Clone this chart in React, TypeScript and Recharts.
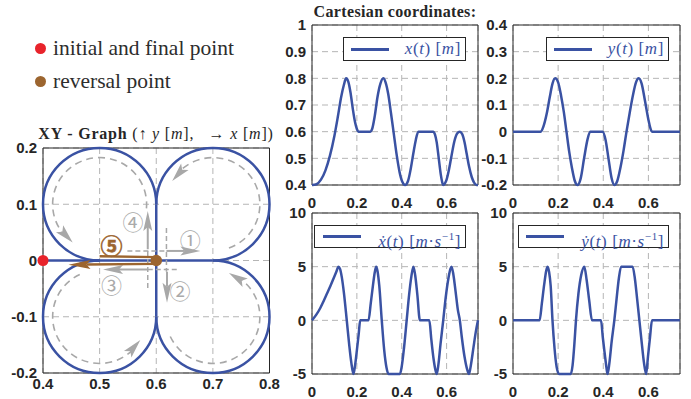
import React from 'react';
import {
  ComposedChart,
  LineChart,
  Line,
  XAxis,
  YAxis,
  CartesianGrid,
  ReferenceArea,
  ReferenceLine,
  Scatter,
  Legend,
} from 'recharts';

// ---------- colours ----------
const BLUE = '#3a52a3';
const RED = '#e8232b';
const BROWN = '#9c652f';
const GRAY = '#a8a8a8';
const GRID = '#b5b5b5';
const INK = '#262626';

// ---------- time plots ----------
const timeTicks = [0, 0.2, 0.4, 0.6];
const timeMax = 0.74;
const posXTicks = [0.4, 0.5, 0.6, 0.7, 0.8, 0.9, 1];
const posYTicks = [-0.2, -0.1, 0, 0.1, 0.2, 0.3, 0.4];
const velTicks = [-5, 0, 5, 10];

// x(t) [m]
const xPosition: [number, number][] = [
  [0, 0.4], [0.02, 0.403], [0.04, 0.42], [0.06, 0.455], [0.08, 0.51], [0.1, 0.585],
  [0.115, 0.655], [0.13, 0.73], [0.142, 0.775], [0.152, 0.8], [0.162, 0.787],
  [0.172, 0.745], [0.182, 0.685], [0.192, 0.635], [0.2, 0.61], [0.207, 0.6],
  [0.259, 0.6], [0.268, 0.61], [0.28, 0.66], [0.292, 0.73], [0.305, 0.78],
  [0.318, 0.8], [0.328, 0.785], [0.34, 0.74], [0.352, 0.67], [0.365, 0.59],
  [0.378, 0.51], [0.39, 0.45], [0.402, 0.413], [0.415, 0.4], [0.428, 0.415],
  [0.44, 0.46], [0.452, 0.52], [0.463, 0.57], [0.474, 0.6], [0.54, 0.6],
  [0.548, 0.59], [0.556, 0.56], [0.565, 0.5], [0.574, 0.44], [0.58, 0.412],
  [0.585, 0.4], [0.592, 0.405], [0.6, 0.42], [0.61, 0.455], [0.622, 0.51],
  [0.635, 0.565], [0.647, 0.593], [0.659, 0.6], [0.67, 0.59], [0.68, 0.56],
  [0.69, 0.515], [0.7, 0.47], [0.712, 0.43], [0.722, 0.41], [0.733, 0.4], [0.74, 0.4],
];

// y(t) [m]
const yPosition: [number, number][] = [
  [0, 0], [0.123, 0], [0.135, 0.02], [0.15, 0.07], [0.163, 0.13], [0.175, 0.18],
  [0.187, 0.2], [0.2, 0.185], [0.213, 0.135], [0.225, 0.075], [0.237, 0],
  [0.249, -0.075], [0.261, -0.135], [0.274, -0.185], [0.286, -0.2], [0.3, -0.175],
  [0.315, -0.1], [0.33, -0.03], [0.342, 0], [0.397, 0], [0.41, -0.03],
  [0.423, -0.1], [0.437, -0.175], [0.449, -0.2], [0.462, -0.185], [0.476, -0.135],
  [0.49, -0.07], [0.503, 0], [0.517, 0.07], [0.531, 0.135], [0.545, 0.185],
  [0.557, 0.2], [0.57, 0.18], [0.585, 0.115], [0.6, 0.045], [0.608, 0.015],
  [0.616, 0], [0.74, 0],
];

// dx/dt [m/s]
const xVelocity: [number, number][] = [
  [0, 0], [0.02, 0.55], [0.037, 1.15], [0.052, 1.8], [0.067, 2.5], [0.082, 3.2],
  [0.096, 3.9], [0.108, 4.5], [0.118, 5], [0.125, 4.8], [0.133, 4], [0.142, 2.6],
  [0.155, 0], [0.166, -2.3], [0.175, -3.9], [0.185, -5], [0.192, -4.2], [0.2, -2.8],
  [0.208, -1.3], [0.215, 0], [0.252, 0], [0.262, 1.6], [0.272, 3.3], [0.28, 4.5],
  [0.286, 5], [0.292, 4.6], [0.3, 3.2], [0.311, 0], [0.322, -2.8], [0.332, -4.4],
  [0.341, -5], [0.392, -5], [0.4, -4.3], [0.41, -2.6], [0.422, 0], [0.433, 2.4],
  [0.443, 4.1], [0.452, 5], [0.46, 4.2], [0.47, 2.3], [0.481, 0], [0.523, 0],
  [0.532, -1.8], [0.542, -3.6], [0.55, -4.6], [0.556, -5], [0.563, -4.2],
  [0.573, -2.2], [0.585, 0], [0.597, 2.3], [0.608, 3.9], [0.617, 4.8], [0.622, 5],
  [0.63, 4.3], [0.64, 2.7], [0.65, 1.0], [0.659, 0], [0.668, -1.6], [0.68, -3.4],
  [0.692, -4.6], [0.7, -5], [0.708, -4.2], [0.72, -2.5], [0.73, -1.1], [0.74, 0],
];

// dy/dt [m/s]
const yVelocity: [number, number][] = [
  [0, 0], [0.118, 0], [0.128, 1.6], [0.138, 3.3], [0.147, 4.6], [0.153, 5],
  [0.16, 4.5], [0.167, 3.2], [0.175, 0], [0.184, -2.6], [0.193, -4.3], [0.204, -5],
  [0.256, -5], [0.264, -4.2], [0.272, -2.2], [0.279, 0], [0.29, 2.5], [0.302, 4.2],
  [0.316, 5], [0.326, 3.8], [0.338, 1.8], [0.35, 0], [0.39, 0], [0.398, -1.6],
  [0.407, -3.2], [0.414, -4.4], [0.419, -5], [0.427, -4], [0.437, -2], [0.449, 0],
  [0.459, 2], [0.469, 3.9], [0.479, 5], [0.53, 5], [0.54, 3.9], [0.55, 2], [0.56, 0],
  [0.57, -2], [0.58, -3.9], [0.59, -5], [0.598, -3.4], [0.607, -1.6], [0.616, 0],
  [0.74, 0],
];

// ---------- XY graph ----------
const xyXTicks = [0.4, 0.5, 0.6, 0.7, 0.8];
const xyYTicks = [-0.2, -0.1, 0, 0.1, 0.2];
const lobeCenters: [number, number][] = [[0.5, 0.1], [0.7, 0.1], [0.7, -0.1], [0.5, -0.1]];
const lobeRadius = 0.1;
const lobeArcs: [number, number][] = [[0, 270], [-90, 180], [180, 450], [90, 360]];
const pathSegments: [number, number][][] = [
  [[0.4, 0], [0.7, 0]],
  [[0.6, 0.1], [0.6, -0.1]],
];
const guideRadius = 0.083;
const guideArcs: [number, number][] = [[-5, 235], [-70, 150], [205, 430], [115, 330]];
const stepArrows: [number, number][][] = [
  [[0.618, 0.017], [0.678, 0.017]],
  [[0.619, -0.02], [0.619, -0.075]],
  [[0.585, -0.016], [0.506, -0.016]],
  [[0.585, 0.02], [0.585, 0.088]],
];
const stepGuides: [number, number][][] = [
  [[0.549, 0.017], [0.618, 0.017]],
  [[0.585, 0.017], [0.585, -0.05]],
  [[0.618, 0.058], [0.618, -0.02]],
  [[0.585, -0.016], [0.638, -0.016]],
];
const reversalTop: [number, number][] = [[0.5, 0.0075], [0.6, 0.006]];
const reversalBack: [number, number][] = [[0.6, -0.006], [0.445, -0.0075]];
const stepLabels = [
  { x: 0.66, y: 0.038, label: '①' },
  { x: 0.642, y: -0.052, label: '②' },
  { x: 0.521, y: -0.041, label: '③' },
  { x: 0.559, y: 0.07, label: '④' },
];
const reversalLabel = [{ x: 0.521, y: 0.029, label: '⑤' }];
const initialPoint = [{ x: 0.4, y: 0 }];
const reversalPoint = [{ x: 0.6, y: 0 }];

// ---------- helpers ----------
const tickStyle = {
  fontSize: 15,
  fontWeight: 700,
  fill: INK,
  fontFamily: '"Liberation Sans", Arial, Helvetica, sans-serif',
};

const toRows = (pairs: [number, number][]) => pairs.map(([t, v]) => ({ t, v }));

const headPoly = (tx: number, ty: number, dx: number, dy: number, L: number, W: number, notch: number) => {
  const bx = tx - dx * L;
  const by = ty - dy * L;
  const nx = -dy;
  const ny = dx;
  const mx = tx - dx * (L - notch);
  const my = ty - dy * (L - notch);
  return `${tx},${ty} ${bx + nx * W},${by + ny * W} ${mx},${my} ${bx - nx * W},${by - ny * W}`;
};

const arcShape =
  (a0: number, a1: number, stroke: string, width: number, dash?: string, head?: boolean) =>
  (p: any) => {
    const w = Math.abs(p.width);
    const h = Math.abs(p.height);
    const cx = Math.min(p.x, p.x + p.width) + w / 2;
    const cy = Math.min(p.y, p.y + p.height) + h / 2;
    const rx = w / 2;
    const ry = h / 2;
    const pt = (a: number) => {
      const r = (a * Math.PI) / 180;
      return [cx + rx * Math.cos(r), cy - ry * Math.sin(r)];
    };
    const L = 19;
    const deltaDeg = head ? ((L / ((rx + ry) / 2)) * 180) / Math.PI : 0;
    const end = head ? a1 - deltaDeg * 0.75 : a1;
    const [x0, y0] = pt(a0);
    const [x1, y1] = pt(end);
    const large = end - a0 > 180 ? 1 : 0;
    const d = `M${x0},${y0} A${rx},${ry} 0 ${large} 0 ${x1},${y1}`;
    let poly = null;
    if (head) {
      const [tx, ty] = pt(a1);
      const [bx, by] = pt(a1 - deltaDeg);
      const len = Math.hypot(tx - bx, ty - by) || 1;
      poly = (
        <polygon points={headPoly(tx, ty, (tx - bx) / len, (ty - by) / len, L, 5, 4)} fill={stroke} />
      );
    }
    return (
      <g>
        <path d={d} fill="none" stroke={stroke} strokeWidth={width} strokeDasharray={dash} />
        {poly}
      </g>
    );
  };

const arrowShape = (color: string, width: number, L: number, W: number) => (p: any) => {
  const { x1, y1, x2, y2 } = p;
  const len = Math.hypot(x2 - x1, y2 - y1) || 1;
  const dx = (x2 - x1) / len;
  const dy = (y2 - y1) / len;
  const sx = x2 - dx * (L - 4);
  const sy = y2 - dy * (L - 4);
  return (
    <g>
      <line x1={x1} y1={y1} x2={sx} y2={sy} stroke={color} strokeWidth={width} />
      <polygon points={headPoly(x2, y2, dx, dy, L, W, 4)} fill={color} />
    </g>
  );
};

const plainLineShape = (color: string, width: number, dash?: string) => (p: any) => (
  <line x1={p.x1} y1={p.y1} x2={p.x2} y2={p.y2} stroke={color} strokeWidth={width} strokeDasharray={dash} strokeLinecap="butt" />
);

const dotShape = (fill: string, r: number) => (p: any) => <circle cx={p.cx} cy={p.cy} r={r} fill={fill} />;

const labelShape = (color: string, weight: number, size: number) => (p: any) => (
  <text
    x={p.cx}
    y={p.cy}
    textAnchor="middle"
    dominantBaseline="central"
    fill={color}
    stroke={weight > 400 ? color : 'none'}
    strokeWidth={weight > 400 ? 0.6 : 0}
    fontSize={size}
    fontWeight={weight}
    fontFamily='"Noto Sans CJK JP", "DejaVu Sans", sans-serif'
  >
    {p.payload.label}
  </text>
);

// ---------- legend boxes ----------
const serif = '"Liberation Serif", "DejaVu Serif", serif';

const LegendBox = ({ width, height, lineLeft, children }: any) => (
  <div
    style={{
      width,
      height,
      boxSizing: 'border-box',
      border: `1px solid ${INK}`,
      background: '#fff',
      position: 'relative',
    }}
  >
    <div style={{ position: 'absolute', left: lineLeft, top: height / 2 - 2.5, width: 38, height: 3, background: BLUE }} />
    <span
      style={{
        position: 'absolute',
        right: 4,
        top: 0,
        lineHeight: `${height - 2}px`,
        fontFamily: serif,
        fontSize: 17,
        letterSpacing: 0.6,
        color: BLUE,
        whiteSpace: 'nowrap',
      }}
    >
      {children}
    </span>
  </div>
);

const TimePlot = ({ left, top, w, h, rows, yDomain, yTicks, legend }: any) => {
  const yW = 40;
  const mT = 10;
  const mR = 10;
  const xH = 30;
  return (
    <div style={{ position: 'absolute', left: left - yW, top: top - mT }}>
      <LineChart width={yW + w + mR} height={mT + h + xH} data={rows} margin={{ top: mT, right: mR, left: 0, bottom: 0 }}>
        <CartesianGrid strokeDasharray="6 4" stroke={GRID} strokeWidth={1} />
        <XAxis
          type="number"
          dataKey="t"
          domain={[0, timeMax]}
          ticks={timeTicks}
          interval={0}
          tickLine={false}
          axisLine={false}
          tickSize={10}
          tickMargin={2}
          height={xH}
          tick={tickStyle}
        />
        <YAxis
          type="number"
          domain={yDomain}
          ticks={yTicks}
          interval={0}
          tickLine={false}
          axisLine={false}
          tickSize={4}
          tickMargin={2}
          width={yW}
          tick={tickStyle}
        />
        <ReferenceArea x1={0} x2={timeMax} y1={yDomain[0]} y2={yDomain[1]} fill="none" fillOpacity={0} stroke={INK} strokeWidth={1} ifOverflow="visible" />
        <Line type="monotone" dataKey="v" stroke={BLUE} strokeWidth={2.5} dot={false} isAnimationActive={false} />
        <Legend
          layout="horizontal"
          verticalAlign="middle"
          align="center"
          wrapperStyle={{ left: legend.left, top: 22, width: legend.width, height: legend.height }}
          content={() => (
            <LegendBox width={legend.width} height={legend.height} lineLeft={legend.lineLeft}>
              {legend.text}
            </LegendBox>
          )}
        />
      </LineChart>
    </div>
  );
};

const I = ({ children }: any) => <i>{children}</i>;

const XYGraph = () => (
  <div style={{ position: 'absolute', left: 0, top: 0 }}>
    <ComposedChart width={280} height={399} margin={{ top: 148, right: 10.5, left: 3, bottom: 0 }}>
      <CartesianGrid strokeDasharray="6 4" stroke={GRID} strokeWidth={1} />
      <XAxis
        type="number"
        dataKey="x"
        domain={[0.4, 0.8]}
        ticks={xyXTicks}
        interval={0}
        tickLine={false}
        axisLine={false}
        tickSize={3}
        tickMargin={2}
        height={26}
        tick={tickStyle}
      />
      <YAxis
        type="number"
        dataKey="y"
        domain={[-0.2, 0.2]}
        ticks={xyYTicks}
        interval={0}
        tickLine={false}
        axisLine={false}
        tickSize={4}
        tickMargin={2}
        width={40}
        tick={tickStyle}
      />
      <ReferenceArea x1={0.4} x2={0.8} y1={-0.2} y2={0.2} fill="none" fillOpacity={0} stroke={INK} strokeWidth={1} ifOverflow="visible" />
      {guideArcs.map(([a0, a1], i) => (
        <ReferenceArea
          key={`g${i}`}
          x1={lobeCenters[i][0] - guideRadius}
          x2={lobeCenters[i][0] + guideRadius}
          y1={lobeCenters[i][1] - guideRadius}
          y2={lobeCenters[i][1] + guideRadius}
          ifOverflow="visible"
          shape={arcShape(a0, a1, GRAY, 1.6, '7 5', true)}
        />
      ))}
      {lobeArcs.map(([a0, a1], i) => (
        <ReferenceArea
          key={`l${i}`}
          x1={lobeCenters[i][0] - lobeRadius}
          x2={lobeCenters[i][0] + lobeRadius}
          y1={lobeCenters[i][1] - lobeRadius}
          y2={lobeCenters[i][1] + lobeRadius}
          ifOverflow="visible"
          shape={arcShape(a0, a1, BLUE, 2.5)}
        />
      ))}
      {pathSegments.map((s, i) => (
        <ReferenceLine
          key={`p${i}`}
          segment={[{ x: s[0][0], y: s[0][1] }, { x: s[1][0], y: s[1][1] }]}
          ifOverflow="visible"
          shape={plainLineShape(BLUE, 2.5)}
        />
      ))}
      {stepGuides.map((s, i) => (
        <ReferenceLine
          key={`sg${i}`}
          segment={[{ x: s[0][0], y: s[0][1] }, { x: s[1][0], y: s[1][1] }]}
          ifOverflow="visible"
          shape={plainLineShape(GRAY, 1.5, '5 3')}
        />
      ))}
      {stepArrows.map((s, i) => (
        <ReferenceLine
          key={`sa${i}`}
          segment={[{ x: s[0][0], y: s[0][1] }, { x: s[1][0], y: s[1][1] }]}
          ifOverflow="visible"
          shape={arrowShape(GRAY, 2, 20, 4.5)}
        />
      ))}
      <ReferenceLine
        segment={[{ x: reversalTop[0][0], y: reversalTop[0][1] }, { x: reversalTop[1][0], y: reversalTop[1][1] }]}
        ifOverflow="visible"
        shape={plainLineShape(BROWN, 2.5)}
      />
      <ReferenceLine
        segment={[{ x: reversalBack[0][0], y: reversalBack[0][1] }, { x: reversalBack[1][0], y: reversalBack[1][1] }]}
        ifOverflow="visible"
        shape={arrowShape(BROWN, 2.5, 22, 4.5)}
      />
      <Scatter data={stepLabels} dataKey="y" isAnimationActive={false} shape={labelShape('#aaaaaa', 400, 21)} />
      <Scatter data={reversalLabel} dataKey="y" isAnimationActive={false} shape={labelShape(BROWN, 700, 22)} />
      <Scatter name="initial and final point" data={initialPoint} dataKey="y" fill={RED} isAnimationActive={false} shape={dotShape(RED, 5.5)} />
      <Scatter name="reversal point" data={reversalPoint} dataKey="y" fill={BROWN} isAnimationActive={false} shape={dotShape(BROWN, 5.8)} />
      <Legend
        layout="horizontal"
        verticalAlign="middle"
        align="center"
        wrapperStyle={{ left: 35, top: 32, width: 240, height: 66 }}
        content={() => (
          <div style={{ fontFamily: serif, fontSize: 21.5, color: '#2d2d2d' }}>
            {[
              { c: RED, t: 'initial and final point' },
              { c: BROWN, t: 'reversal point' },
            ].map((r) => (
              <div key={r.t} style={{ height: 33, display: 'flex', alignItems: 'center', whiteSpace: 'nowrap' }}>
                <span style={{ width: 11, height: 11, borderRadius: '50%', background: r.c, display: 'inline-block' }} />
                <span style={{ marginLeft: 7, lineHeight: '33px' }}>{r.t}</span>
              </div>
            ))}
          </div>
        )}
      />
    </ComposedChart>
  </div>
);

export default function App() {
  return (
    <div style={{ position: 'absolute', left: 0, top: 0, width: 691, height: 399, background: '#fff', overflow: 'hidden' }}>
      <div
        style={{
          position: 'absolute',
          left: 275,
          top: 3,
          width: 240,
          textAlign: 'center',
          fontFamily: serif,
          fontWeight: 700,
          fontSize: 16,
          letterSpacing: 0.35,
          lineHeight: '18px',
          color: INK,
          whiteSpace: 'nowrap',
        }}
      >
        Cartesian coordinates:
      </div>
      <div
        style={{
          position: 'absolute',
          left: 6,
          top: 125,
          width: 300,
          textAlign: 'center',
          fontFamily: serif,
          fontSize: 16,
          letterSpacing: 0.8,
          lineHeight: '18px',
          color: INK,
          whiteSpace: 'nowrap',
        }}
      >
        <b>XY - Graph</b> (↑ <I>y</I> [<I>m</I>], &nbsp;&nbsp;→ <I>x</I> [<I>m</I>])
      </div>
      <XYGraph />
      <TimePlot
        left={312}
        top={25}
        w={166}
        h={160}
        rows={toRows(xPosition)}
        yDomain={[0.4, 1]}
        yTicks={posXTicks}
        legend={{
          left: 71,
          width: 123,
          height: 24,
          lineLeft: 7,
          text: (
            <>
              <I>x</I>(<I>t</I>) [<I>m</I>]
            </>
          ),
        }}
      />
      <TimePlot
        left={513}
        top={25}
        w={167}
        h={160}
        rows={toRows(yPosition)}
        yDomain={[-0.2, 0.4]}
        yTicks={posYTicks}
        legend={{
          left: 73,
          width: 123,
          height: 24,
          lineLeft: 7,
          text: (
            <>
              <I>y</I>(<I>t</I>) [<I>m</I>]
            </>
          ),
        }}
      />
      <TimePlot
        left={312}
        top={213}
        w={166}
        h={161}
        rows={toRows(xVelocity)}
        yDomain={[-5, 10]}
        yTicks={velTicks}
        legend={{
          left: 42,
          width: 152,
          height: 23,
          lineLeft: 8,
          text: (
            <>
              <I>ẋ</I>(<I>t</I>) [<I>m</I>·<I>s</I>
              <sup style={{ fontSize: 11 }}>−1</sup>]
            </>
          ),
        }}
      />
      <TimePlot
        left={513}
        top={213}
        w={167}
        h={161}
        rows={toRows(yVelocity)}
        yDomain={[-5, 10]}
        yTicks={velTicks}
        legend={{
          left: 45,
          width: 151,
          height: 23,
          lineLeft: 7,
          text: (
            <>
              <I>ẏ</I>(<I>t</I>) [<I>m</I>·<I>s</I>
              <sup style={{ fontSize: 11 }}>−1</sup>]
            </>
          ),
        }}
      />
    </div>
  );
}
